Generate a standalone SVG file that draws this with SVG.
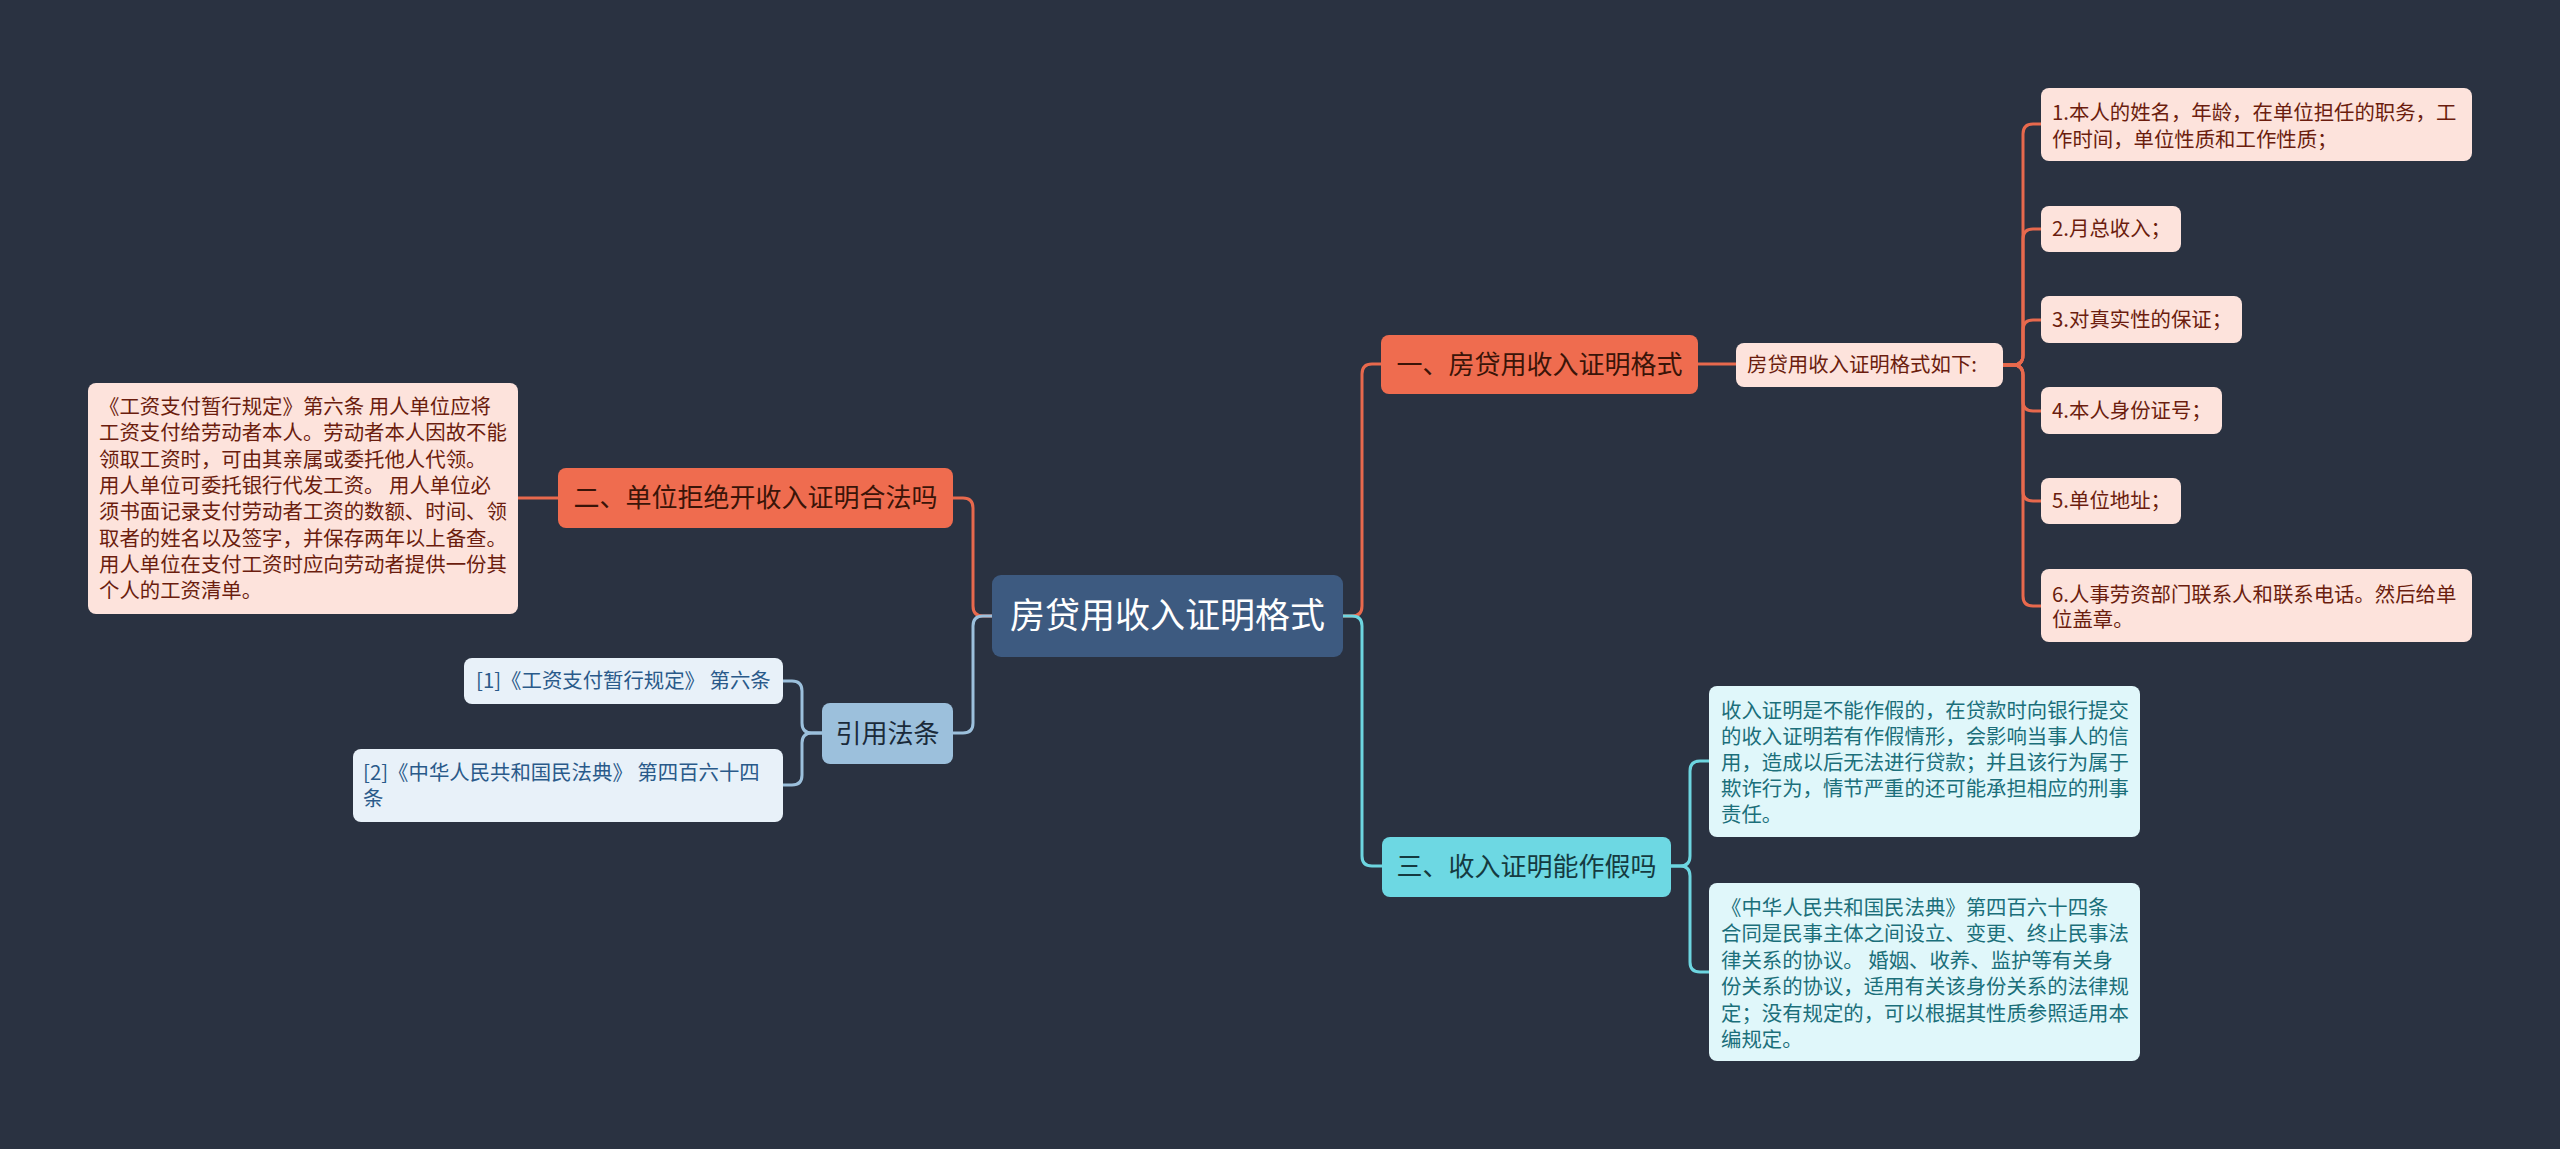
<svg xmlns="http://www.w3.org/2000/svg" width="2560" height="1149" viewBox="0 0 2560 1149">
<style>
text{font-family:"Noto Sans CJK SC","Noto Sans",sans-serif;}
.c{fill:none;stroke-width:3;}
.o{stroke:#e8694d;}
.cy{stroke:#6dd5e0;}
.b{stroke:#9cc0dc;}
.main{font-size:26px;text-anchor:middle;}
.lf{font-size:20.4px;}
.pk{fill:#fde3dc;}
.pkt{fill:#6b1d0e;}
.cyl{fill:#e0f7fa;}
.cyt{fill:#1b6f7a;}
.bl{fill:#e8f1f9;}
.blt{fill:#2a5a8a;}
</style>
<rect width="2560" height="1149" fill="#2a3241"/>
<g id="connectors">
<path class="c o" d="M1343,616 H1352 Q1362,616 1362,606 V374 Q1362,364 1372,364 H1381"/>
<path class="c cy" d="M1343,616 H1352 Q1362,616 1362,626 V856 Q1362,866 1372,866 H1382"/>
<path class="c o" d="M1698,364 H1736"/>
<path class="c o" d="M2003,365 H2013 Q2023,365 2023,355 V134 Q2023,124 2033,124 H2041"/>
<path class="c o" d="M2003,365 H2013 Q2023,365 2023,355 V239 Q2023,229 2033,229 H2041"/>
<path class="c o" d="M2003,365 H2013 Q2023,365 2023,355 V330 Q2023,320 2033,320 H2041"/>
<path class="c o" d="M2003,365 H2013 Q2023,365 2023,375 V401 Q2023,411 2033,411 H2041"/>
<path class="c o" d="M2003,365 H2013 Q2023,365 2023,375 V491 Q2023,501 2033,501 H2041"/>
<path class="c o" d="M2003,365 H2013 Q2023,365 2023,375 V596 Q2023,606 2033,606 H2041"/>
<path class="c cy" d="M1671,866 H1680 Q1690,866 1690,856 V771 Q1690,761 1700,761 H1709"/>
<path class="c cy" d="M1671,866 H1680 Q1690,866 1690,876 V962 Q1690,972 1700,972 H1709"/>
<path class="c o" d="M992,616 H983 Q973,616 973,606 V508 Q973,498 963,498 H953"/>
<path class="c b" d="M992,616 H983 Q973,616 973,626 V723 Q973,733 963,733 H953"/>
<path class="c o" d="M558,498 H518"/>
<path class="c b" d="M822,733 H812 Q802,733 802,723 V691 Q802,681 792,681 H783"/>
<path class="c b" d="M822,733 H812 Q802,733 802,743 V775 Q802,785 792,785 H783"/>
</g>
<g id="root">
<rect x="992" y="575" width="351" height="82" rx="9" fill="#3d5a80"/>
<text x="1167.5" y="628" font-size="35" text-anchor="middle" fill="#ffffff">房贷用收入证明格式</text>
</g>
<g id="n1">
<rect x="1381" y="335" width="317" height="59" rx="8" fill="#ef6c4f"/>
<text class="main" x="1539.5" y="373.5" fill="#3a1408">一、房贷用收入证明格式</text>
</g>
<g id="n1-sub">
<rect x="1736" y="343" width="267" height="44" rx="8" class="pk"/>
<text class="lf pkt" x="1747" y="372">房贷用收入证明格式如下:</text>
</g>
<g id="leaf1">
<rect x="2041" y="88" width="431" height="73" rx="8" class="pk"/>
<text class="lf pkt" x="2052" y="120">1.本人的姓名，年龄，在单位担任的职务，工<tspan x="2052" y="147">作时间，单位性质和工作性质；</tspan></text>
</g>
<g id="leaf2">
<rect x="2041" y="206" width="140" height="46" rx="8" class="pk"/>
<text class="lf pkt" x="2052" y="236">2.月总收入；</text>
</g>
<g id="leaf3">
<rect x="2041" y="296" width="201" height="47" rx="8" class="pk"/>
<text class="lf pkt" x="2052" y="327">3.对真实性的保证；</text>
</g>
<g id="leaf4">
<rect x="2041" y="387" width="181" height="47" rx="8" class="pk"/>
<text class="lf pkt" x="2052" y="418">4.本人身份证号；</text>
</g>
<g id="leaf5">
<rect x="2041" y="478" width="140" height="46" rx="8" class="pk"/>
<text class="lf pkt" x="2052" y="508">5.单位地址；</text>
</g>
<g id="leaf6">
<rect x="2041" y="569" width="431" height="73" rx="8" class="pk"/>
<text class="lf pkt" x="2052" y="602">6.人事劳资部门联系人和联系电话。然后给单<tspan x="2052" y="627">位盖章。</tspan></text>
</g>
<g id="n3">
<rect x="1382" y="837" width="289" height="60" rx="8" fill="#6dd8e3"/>
<text class="main" x="1526.5" y="875.5" fill="#153a40">三、收入证明能作假吗</text>
</g>
<g id="n3-a">
<rect x="1709" y="686" width="431" height="151" rx="8" class="cyl"/>
<text class="lf cyt" x="1721" y="718">收入证明是不能作假的，在贷款时向银行提交<tspan x="1721" y="744">的收入证明若有作假情形，会影响当事人的信</tspan><tspan x="1721" y="770">用，造成以后无法进行贷款；并且该行为属于</tspan><tspan x="1721" y="796">欺诈行为，情节严重的还可能承担相应的刑事</tspan><tspan x="1721" y="822">责任。</tspan></text>
</g>
<g id="n3-b">
<rect x="1709" y="883" width="431" height="178" rx="8" class="cyl"/>
<text class="lf cyt" x="1721" y="915">《中华人民共和国民法典》第四百六十四条<tspan x="1721" y="941.4">合同是民事主体之间设立、变更、终止民事法</tspan><tspan x="1721" y="967.8">律关系的协议。 婚姻、收养、监护等有关身</tspan><tspan x="1721" y="994.2">份关系的协议，适用有关该身份关系的法律规</tspan><tspan x="1721" y="1020.6">定；没有规定的，可以根据其性质参照适用本</tspan><tspan x="1721" y="1047">编规定。</tspan></text>
</g>
<g id="n2">
<rect x="558" y="468" width="395" height="60" rx="8" fill="#ef6c4f"/>
<text class="main" x="755.5" y="507" fill="#3a1408">二、单位拒绝开收入证明合法吗</text>
</g>
<g id="n2-a">
<rect x="88" y="383" width="430" height="231" rx="8" class="pk"/>
<text class="lf pkt" x="99" y="414">《工资支付暂行规定》第六条 用人单位应将<tspan x="99" y="440.3">工资支付给劳动者本人。劳动者本人因故不能</tspan><tspan x="99" y="466.6">领取工资时，可由其亲属或委托他人代领。</tspan><tspan x="99" y="492.9">用人单位可委托银行代发工资。 用人单位必</tspan><tspan x="99" y="519.2">须书面记录支付劳动者工资的数额、时间、领</tspan><tspan x="99" y="545.5">取者的姓名以及签字，并保存两年以上备查。</tspan><tspan x="99" y="571.8">用人单位在支付工资时应向劳动者提供一份其</tspan><tspan x="99" y="598.1">个人的工资清单。</tspan></text>
</g>
<g id="n4">
<rect x="822" y="703" width="131" height="61" rx="8" fill="#9cc0dc"/>
<text class="main" x="887.5" y="742.5" fill="#1a2a3a">引用法条</text>
</g>
<g id="n4-a">
<rect x="464" y="658" width="319" height="46" rx="8" class="bl"/>
<text class="lf blt" x="476" y="688">[1]《工资支付暂行规定》 第六条</text>
</g>
<g id="n4-b">
<rect x="353" y="749" width="430" height="73" rx="8" class="bl"/>
<text class="lf blt" x="363" y="780">[2]《中华人民共和国民法典》 第四百六十四<tspan x="363" y="806">条</tspan></text>
</g>
</svg>
